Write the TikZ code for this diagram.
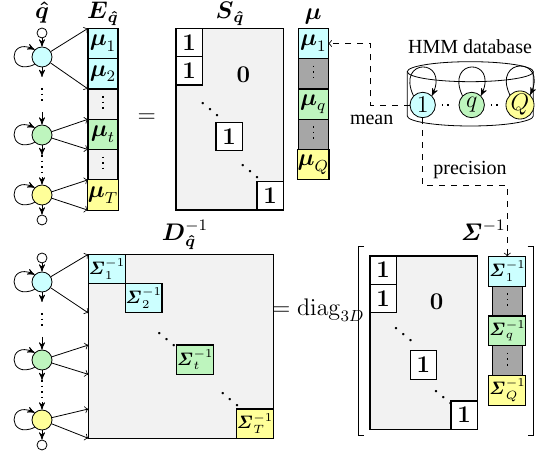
\documentclass[tikz,border=0pt]{standalone}
\usepackage{amsmath}
\usepackage{amssymb}
\usepackage[no-math]{fontspec}
\setmainfont{Liberation Serif}
\usepackage{tikz}
\usetikzlibrary{arrows,automata,positioning}

\definecolor{qcyan}{RGB}{204,255,255}
\definecolor{qgreen}{RGB}{190,245,190}
\definecolor{qyellow}{RGB}{255,255,153}
\definecolor{qlight}{RGB}{242,242,242}
\definecolor{qdark}{RGB}{166,166,166}

\begin{document}
\begin{tikzpicture}[x=0.5pt,y=0.5pt,>=stealth',node distance=0pt,
    every state/.style={inner sep=0pt,minimum size=10pt},
    stub/.style={state,minimum size=5pt},
    dbstate/.style={state,minimum size=12.7pt,font=\large},
    cell/.style={draw,semithick,inner sep=0pt,outer sep=0pt,minimum width=15pt,minimum height=15.15pt,font=\large},
    scell/.style={cell,font=\small,minimum height=14.9pt},
    vdots/.style={path picture={\draw[dotted,thick]
      ([yshift=-3.5pt]path picture bounding box.north) -- ([yshift=3.5pt]path picture bounding box.south);}},
    one/.style={draw,semithick,fill=white,inner sep=0pt,outer sep=0pt,minimum width=13.15pt,minimum height=14.15pt,font=\large},
    blk/.style={draw,semithick,inner sep=0pt,outer sep=0pt,minimum size=14.65pt,font=\small},
    mat/.style={draw,semithick,fill=qlight,inner sep=0pt,outer sep=0pt},
    lbl/.style={font=\large,inner sep=0pt}]
  \useasboundingbox (0,0) rectangle (542,454);

  % the two state chains
  \foreach \ch/\dy in {u/0,l/-225} {
    \node[stub] (\ch0) at (42,421+\dy) {};
    \node[state,fill=qcyan] (\ch1) at (42,397+\dy) {};
    \node[state,fill=qgreen] (\ch2) at (42,319+\dy) {};
    \node[state,fill=qyellow] (\ch3) at (42,259+\dy) {};
    \node[stub] (\ch4) at (42,234+\dy) {};
    \coordinate (\ch g1) at (42,377+\dy);
    \coordinate (\ch g2) at (42,366+\dy);
    \coordinate (\ch g3) at (42,350+\dy);
    \coordinate (\ch g4) at (42,342+\dy);
    \coordinate (\ch g5) at (42,299+\dy);
    \coordinate (\ch g6) at (42,277+\dy);
    \draw[->] (\ch0) -- (\ch1);
    \draw[->] (\ch1) -- (\ch g1);
    \draw[dotted,thick] (\ch g2) -- (\ch g3);
    \draw[->] (\ch g4) -- (\ch2);
    \draw[->] (\ch2) -- (\ch g5);
    \draw[dotted,thick] (\ch g5) -- (\ch g6);
    \draw[->] (\ch g6) -- (\ch3);
    \draw[->] (\ch3) -- (\ch4);
    \foreach \k in {1,2,3}
      \draw[->] (\ch\k.225) .. controls +(205:15pt) and +(155:15pt) .. (\ch\k.135);
  }

  % E column
  \node[lbl] (lq) at (42,441) {$\boldsymbol{\hat{q}}$};
  \node[lbl] (le) at (103,440) {$\boldsymbol{E}_{\boldsymbol{\hat{q}}}$};
  \node[cell,fill=qcyan] (e1) at (103,410.5) {$\boldsymbol{\mu}_1$};
  \node[cell,fill=qcyan,below=of e1] (e2) {$\boldsymbol{\mu}_2$};
  \node[cell,fill=qlight,vdots,below=of e2] (e3) {};
  \node[cell,fill=qgreen,below=of e3] (e4) {$\boldsymbol{\mu}_t$};
  \node[cell,fill=qlight,vdots,below=of e4] (e5) {};
  \node[cell,fill=qyellow,below=of e5] (e6) {$\boldsymbol{\mu}_T$};
  \path[-to] (u1) edge (e1.north west) edge (e2.south west);
  \path[-to] (u2) edge (e4.north west) edge (e4.south west);
  \path[-to] (u3) edge (e6.north west) edge (e6.south west);

  \node[lbl] (eq1) at (146.7,336) {$=$};

  % S matrix
  \node[lbl] (ls) at (230,440) {$\boldsymbol{S}_{\boldsymbol{\hat{q}}}$};
  \node[mat,minimum width=53.65pt,minimum height=90.85pt] (sm) at (229.7,334.8) {};
  \node[one,anchor=north west] (o1) at (sm.north west) {$\mathbf{1}$};
  \node[one,below=of o1] (o2) {$\mathbf{1}$};
  \node[one] (o3) at (229.2,317.3) {$\mathbf{1}$};
  \node[one,anchor=south east] (o4) at (sm.south east) {$\mathbf{1}$};
  \node[lbl] (z1) at (243.3,379) {$\mathbf{0}$};
  \node (sd1) at (210,351) {$\ddots$};
  \node (sd2) at (250,289) {$\ddots$};

  % mu column
  \node[lbl] (lm) at (313,437) {$\boldsymbol{\mu}$};
  \node[cell,fill=qcyan] (m1) at (313.3,410.5) {$\boldsymbol{\mu}_1$};
  \node[cell,fill=qdark,vdots,below=of m1] (m2) {};
  \node[cell,fill=qgreen,below=of m2] (m3) {$\boldsymbol{\mu}_q$};
  \node[cell,fill=qdark,vdots,below=of m3] (m4) {};
  \node[cell,fill=qyellow,below=of m4] (m5) {$\boldsymbol{\mu}_Q$};

  % database
  \node (hdb) at (470,407.3) {HMM database};
  \draw (470.3,382.3) ellipse [x radius=31.5pt,y radius=5pt];
  \draw (407.3,382.3) -- (407.3,338) arc [start angle=180,end angle=360,x radius=31.5pt,y radius=5pt] -- (533.3,382.3);
  \node[dbstate,fill=qcyan] (n1) at (422.7,349) {$1$};
  \node[dbstate,fill=qgreen] (nq) at (471.7,349) {$q$};
  \node[dbstate,fill=qyellow] (nQ) at (520,349) {$Q$};
  \draw[dotted,thick,shorten <=3pt,shorten >=3pt] (n1) -- (nq);
  \draw[dotted,thick,shorten <=3pt,shorten >=3pt] (nq) -- (nQ);
  \foreach \n in {n1,nq,nQ}
    \draw[->] (\n.135) .. controls +(115:21pt) and +(65:21pt) .. (\n.45);

  % D matrix
  \node[lbl] (ld) at (185,219) {$\boldsymbol{D}^{-1}_{\boldsymbol{\hat{q}}}$};
  \node[mat,minimum width=92.5pt,minimum height=92pt] (dm) at (180.8,107.7) {};
  \node[blk,fill=qcyan,anchor=north west] (s1) at (dm.north west) {$\boldsymbol{\mathit{\Sigma}}^{-1}_1$};
  \node[blk,fill=qcyan,anchor=north west] (s2) at (s1.south east) {$\boldsymbol{\mathit{\Sigma}}^{-1}_2$};
  \node[blk,fill=qgreen] (st) at (195,94.3) {$\boldsymbol{\mathit{\Sigma}}^{-1}_t$};
  \node[blk,fill=qyellow,anchor=south east] (sT) at (dm.south east) {$\boldsymbol{\mathit{\Sigma}}^{-1}_T$};
  \node (dd1) at (166.7,120.7) {$\ddots$};
  \node (dd2) at (230,60.7) {$\ddots$};
  \path[-to] (l1) edge (dm.north west) edge (dm.west |- s2.south);
  \path[-to] (l2) edge (dm.west |- st.north) edge (dm.west |- st.south);
  \path[-to] (l3) edge (dm.west |- sT.north) edge (dm.south west);

  \node[font=\large] (eq2) at (318.3,144) {$=\mathrm{diag}_{3D}$};

  % bracketed right side
  \draw (364,207.3) -- (358.3,207.3) -- (358.3,19) -- (364,19);
  \draw (527.6,207.3) -- (533.3,207.3) -- (533.3,19) -- (527.6,19);
  \node[mat,minimum width=53.65pt,minimum height=86.65pt] (sm2) at (423.65,111.35) {};
  \node[one,anchor=north west] (p1) at (sm2.north west) {$\mathbf{1}$};
  \node[one,below=of p1] (p2) {$\mathbf{1}$};
  \node[one] (p3) at (423.3,89) {$\mathbf{1}$};
  \node[one,anchor=south east] (p4) at (sm2.south east) {$\mathbf{1}$};
  \node[lbl] (z2) at (436.7,152.3) {$\mathbf{0}$};
  \node (pd1) at (403.3,125.7) {$\ddots$};
  \node (pd2) at (443.3,62.3) {$\ddots$};

  % Sigma column
  \node[lbl] (lsig) at (483,224) {$\boldsymbol{\mathit{\Sigma}}^{-1}$};
  \node[scell,fill=qcyan] (r1) at (507.3,182.7) {$\boldsymbol{\mathit{\Sigma}}^{-1}_1$};
  \node[scell,fill=qdark,vdots,below=of r1] (r2) {};
  \node[scell,fill=qgreen,below=of r2] (r3) {$\boldsymbol{\mathit{\Sigma}}^{-1}_q$};
  \node[scell,fill=qdark,vdots,below=of r3] (r4) {};
  \node[scell,fill=qyellow,below=of r4] (r5) {$\boldsymbol{\mathit{\Sigma}}^{-1}_Q$};

  % links from the database
  \draw[dashed,-to] (n1.west) -| ([xshift=21pt]m1.east) -- (m1.east);
  \node (mean) at (371.7,334) {mean};
  \draw[dashed,-to] (n1.south) |- ([yshift=35.5pt]r1.north) -- (r1.north);
  \node (prec) at (470,284) {precision};
\end{tikzpicture}
\end{document}
